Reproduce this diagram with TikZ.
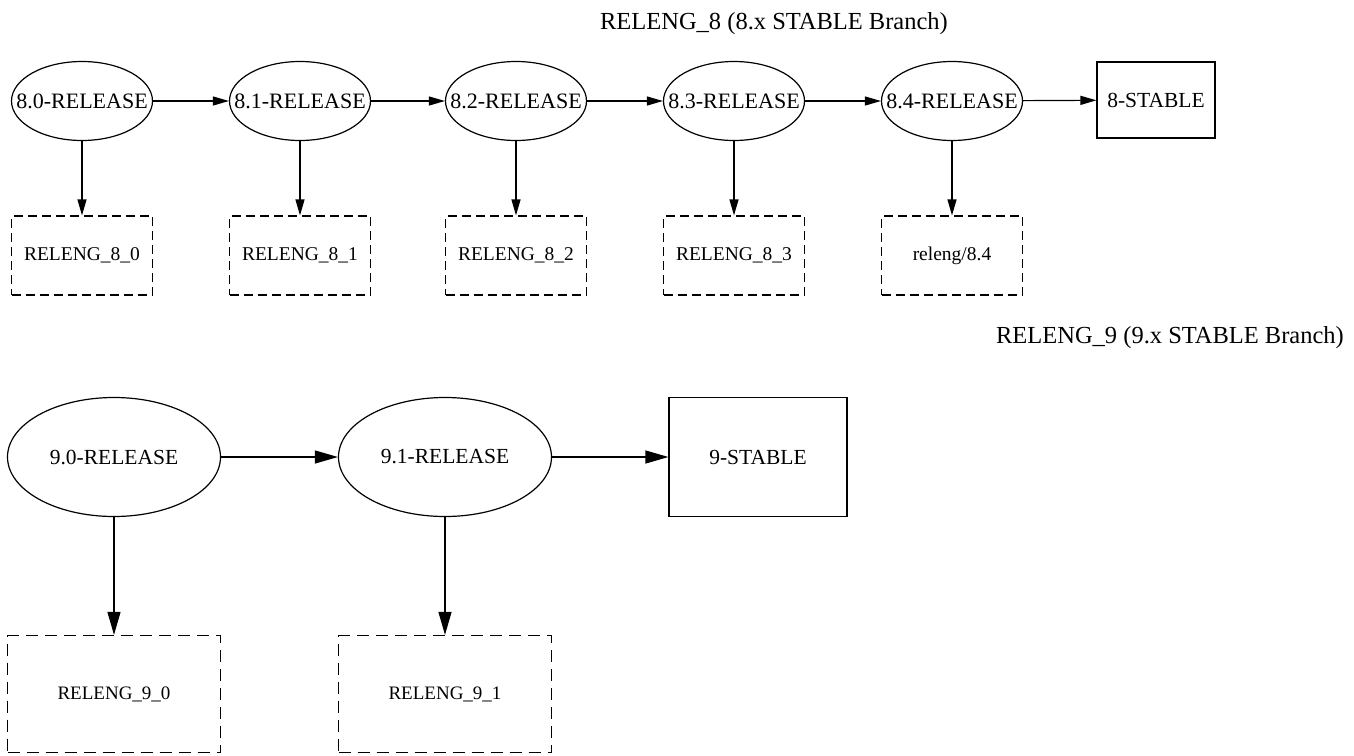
\documentclass[tikz,border=0pt]{standalone}
\usepackage{fontspec}
\setmainfont{Liberation Serif}
\usetikzlibrary{shapes.geometric,arrows.meta}

\begin{document}
\begin{tikzpicture}[x=1pt, y=-1pt, line width=1.2pt,
    rel/.style={ellipse, draw, inner sep=0pt, minimum width=141pt, minimum height=79pt,
        label={[font=\fontsize{22}{26}\selectfont]center:#1}},
    relbig/.style={ellipse, draw, inner sep=0pt, minimum width=213pt, minimum height=119pt,
        font=\fontsize{21.5}{26}\selectfont},
    tag/.style={draw, dash pattern=on 9pt off 5pt, inner sep=0pt, minimum width=141pt,
        minimum height=79pt, font=\fontsize{19.5}{23}\selectfont},
    tagbig/.style={draw, dash pattern=on 12pt off 7pt, inner sep=0pt, minimum width=213pt,
        minimum height=117pt, font=\fontsize{19}{23}\selectfont},
    stable/.style={draw, inner sep=0pt, font=\fontsize{21.5}{26}\selectfont},
    edge/.style={-{Triangle[length=16pt, width=9pt]}},
    edgebig/.style={-{Triangle[length=23pt, width=13pt]}},
    title/.style={anchor=base, font=\fontsize{24.5}{29}\selectfont}
]
    \useasboundingbox (0,0) rectangle (1354,755);

    \node[title] (t8) at (774,29) {RELENG\_8 (8.x STABLE Branch)};

    \node[rel=8.0-RELEASE] (r80) at (82,101) {};
    \node[rel=8.1-RELEASE] (r81) at (300,101) {};
    \node[rel=8.2-RELEASE] (r82) at (516,101) {};
    \node[rel=8.3-RELEASE] (r83) at (734,101) {};
    \node[rel=8.4-RELEASE] (r84) at (952,101) {};
    \node[stable, minimum width=118pt, minimum height=76pt] (s8) at (1156,100) {8-STABLE};

    \node[tag] (g80) at (82,255.5) {RELENG\_8\_0};
    \node[tag] (g81) at (300,255.5) {RELENG\_8\_1};
    \node[tag] (g82) at (516,255.5) {RELENG\_8\_2};
    \node[tag] (g83) at (734,255.5) {RELENG\_8\_3};
    \node[tag] (g84) at (952,255.5) {releng/8.4};

    \draw[edge] (r80) -- (r81);
    \draw[edge] (r81) -- (r82);
    \draw[edge] (r82) -- (r83);
    \draw[edge] (r83) -- (r84);
    \draw[edge] (r84) -- (s8);
    \draw[edge] (r80) -- (g80);
    \draw[edge] (r81) -- (g81);
    \draw[edge] (r82) -- (g82);
    \draw[edge] (r83) -- (g83);
    \draw[edge] (r84) -- (g84);

    \node[title] (t9) at (1170,343) {RELENG\_9 (9.x STABLE Branch)};

    \node[relbig] (r90) at (114,457) {9.0-RELEASE};
    \node[relbig] (r91) at (445,457) {9.1-RELEASE};
    \node[stable, minimum width=178pt, minimum height=119pt] (s9) at (758,457) {9-STABLE};

    \node[tagbig] (g90) at (114,694) {RELENG\_9\_0};
    \node[tagbig] (g91) at (445,694) {RELENG\_9\_1};

    \draw[edgebig] (r90) -- (r91);
    \draw[edgebig] (r91) -- (s9);
    \draw[edgebig] (r90) -- (g90);
    \draw[edgebig] (r91) -- (g91);
\end{tikzpicture}
\end{document}
